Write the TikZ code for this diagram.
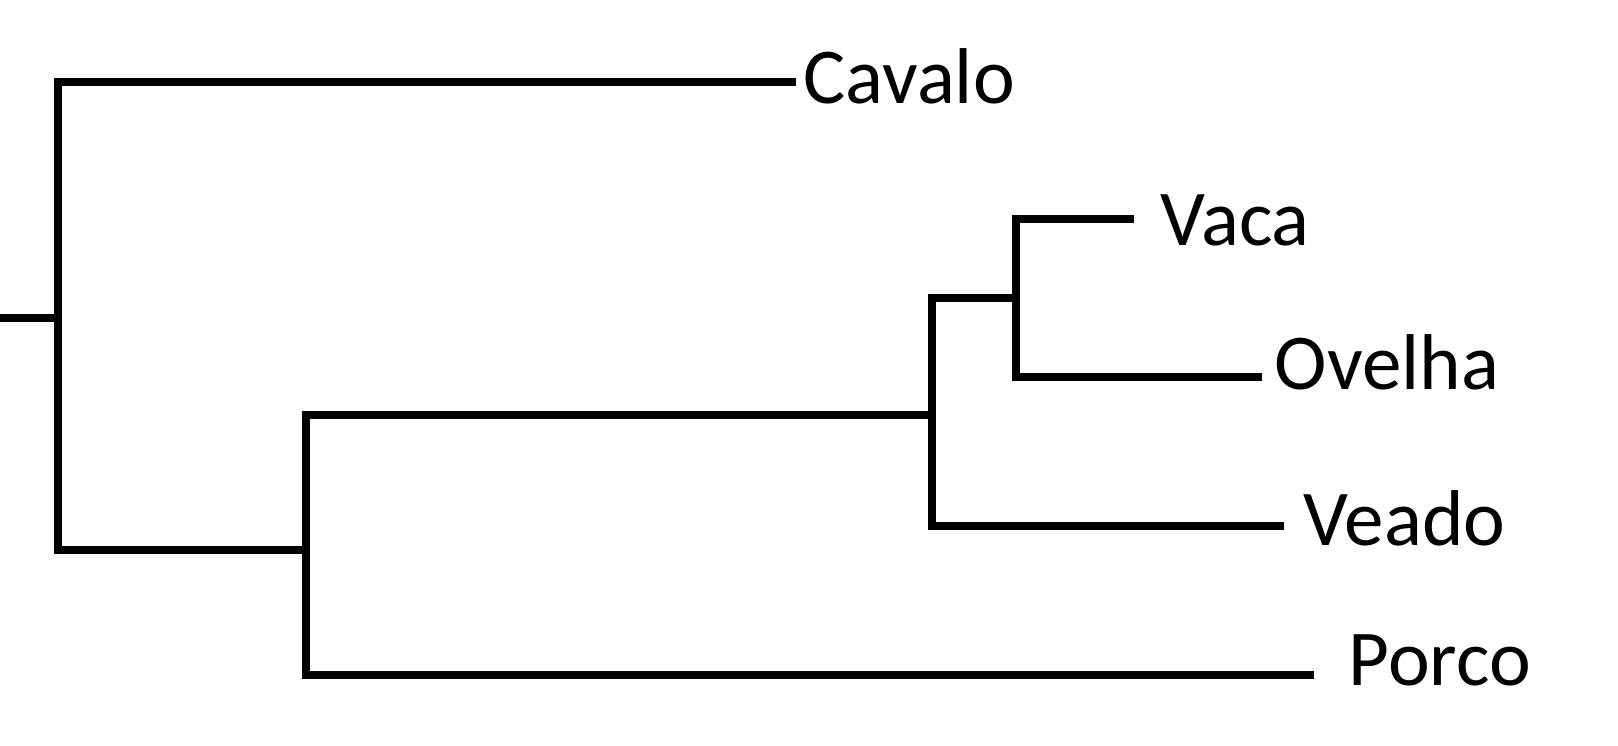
\documentclass[tikz,border=0pt]{standalone}
\usepackage{fontspec}
\setmainfont{Carlito}
\begin{document}
\begin{tikzpicture}[x=0.01cm,y=-0.01cm,
  br/.style={line width=2.1pt,line cap=rect},
  lab/.style={anchor=west,inner sep=0pt,font=\fontsize{22.5}{26}\selectfont}]
\useasboundingbox (0,0) rectangle (1618,745);
\coordinate (r0) at (0,318);
\coordinate (r) at (58,318);
\coordinate (n1) at (306,550);
\coordinate (n2) at (932,415);
\coordinate (n3) at (1016,298);
\node[lab] (cav) at (803,76) {Cavalo};
\node[lab] (vac) at (1160,220) {Vaca};
\node[lab] (ove) at (1274,362) {Ovelha};
\node[lab] (vea) at (1303,518) {Veado};
\node[lab] (por) at (1348,660) {Porco};
\draw[br] (r0) -- (r);
\draw[br] (792,82) -- (58,82) -- (58,550) -- (n1);
\draw[br] (n1) |- (306,415) -- (n2);
\draw[br] (306,415) -- (306,675) -- (1310,675);
\draw[br] (932,298) -- (932,526) -- (1280,526);
\draw[br] (932,298) -- (n3);
\draw[br] (1016,219) -- (1016,377) -- (1258,377);
\draw[br] (1016,219) -- (1130,219);
\end{tikzpicture}
\end{document}
